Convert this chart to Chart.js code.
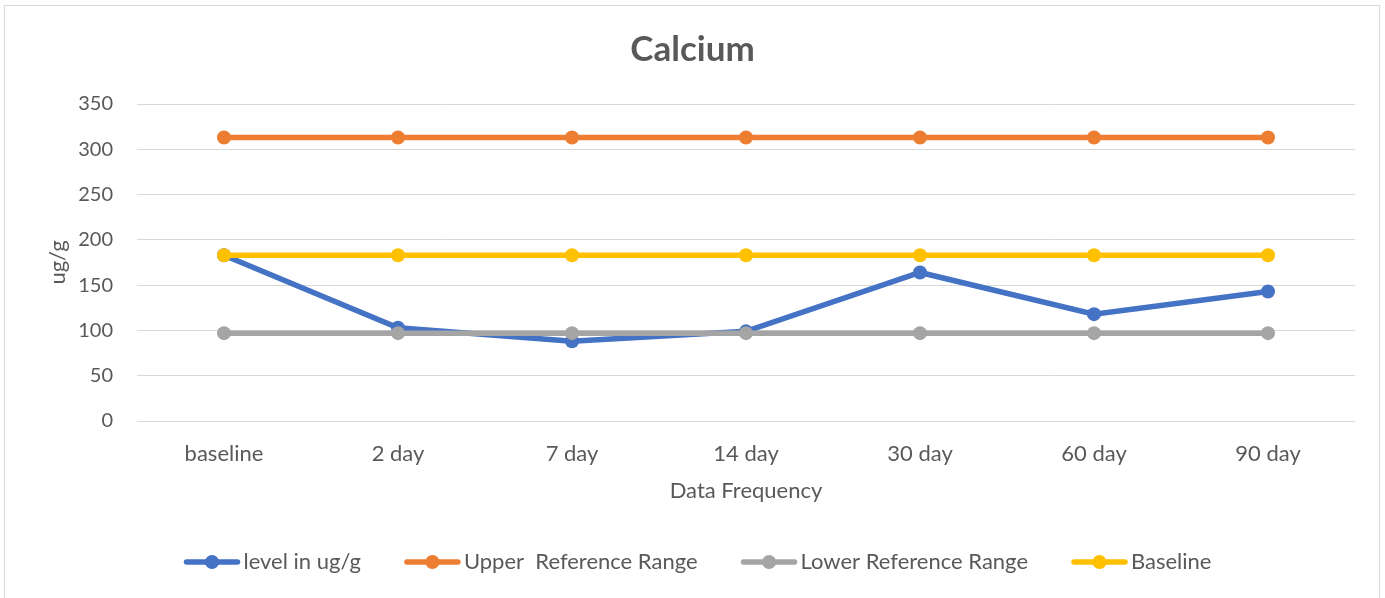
<!DOCTYPE html>
<html>
<head>
<meta charset="utf-8">
<script src="https://cdn.jsdelivr.net/npm/chart.js@4"></script>
<style>
  html, body { margin: 0; padding: 0; background: #ffffff; }
  #wrap { position: absolute; left: 0; top: 0; width: 1385px; height: 598px; }
  #frame { position: absolute; left: 4px; top: 5px; width: 1376px; height: 600px; border: 1px solid #d9d9d9; box-sizing: border-box; }
  canvas { position: absolute; left: 0; top: 0; }
</style>
</head>
<body>
<div id="wrap">
  <div id="frame"></div>
  <canvas id="c" width="1385" height="598"></canvas>
</div>
<script>
const categories = ["baseline", "2 day", "7 day", "14 day", "30 day", "60 day", "90 day"];
const levelValues = [183, 103, 88, 99, 164, 118, 143];
const upperValues = [313, 313, 313, 313, 313, 313, 313];
const lowerValues = [97, 97, 97, 97, 97, 97, 97];
const baselineValues = [183, 183, 183, 183, 183, 183, 183];
const seriesNames = ["level in ug/g", "Upper  Reference Range", "Lower Reference Range", "Baseline"];
const seriesColors = ["#4472C4", "#ED7D31", "#A5A5A5", "#FFC000"];
const yTicks = [0, 50, 100, 150, 200, 250, 300, 350];

const FONT = "Lato, 'Open Sans', sans-serif";
const TEXT = "#595959";

const allValues = [levelValues, upperValues, lowerValues, baselineValues];
const datasets = allValues.map((vals, i) => ({
  label: seriesNames[i],
  data: vals,
  borderColor: seriesColors[i],
  backgroundColor: seriesColors[i],
  borderWidth: 5.5,
  pointRadius: 7,
  pointHoverRadius: 7,
  pointBorderWidth: 0,
  pointStyle: 'circle',
  tension: 0,
  order: 4 - i
}));

// Excel-style legend: line with a dot, then label text
const excelLegend = {
  id: 'excelLegend',
  afterDraw(chart, args, opts) {
    const ctx = chart.ctx;
    const ds = chart.data.datasets;
    const iconW = 55, gapText = 4, gapItem = 44;
    ctx.save();
    ctx.font = "22px " + FONT;
    const widths = ds.map(d => ctx.measureText(d.label).width);
    let total = 0;
    widths.forEach((w, i) => { total += iconW + gapText + w + (i < ds.length - 1 ? gapItem : 0); });
    let x = opts.centerX - total / 2;
    const y = opts.y;
    ds.forEach((d, i) => {
      ctx.strokeStyle = d.borderColor;
      ctx.lineWidth = 5.5;
      ctx.lineCap = 'round';
      ctx.beginPath(); ctx.moveTo(x + 2, y); ctx.lineTo(x + iconW - 2, y); ctx.stroke();
      ctx.fillStyle = d.borderColor;
      ctx.beginPath(); ctx.arc(x + iconW / 2, y, 7, 0, Math.PI * 2); ctx.fill();
      ctx.fillStyle = TEXT;
      ctx.textBaseline = 'middle';
      ctx.textAlign = 'left';
      ctx.fillText(d.label, x + iconW + gapText, y);
      x += iconW + gapText + widths[i] + gapItem;
    });
    ctx.restore();
  }
};

new Chart(document.getElementById('c'), {
  type: 'line',
  data: { labels: categories, datasets: datasets },
  plugins: [excelLegend],
  options: {
    responsive: false,
    animation: false,
    devicePixelRatio: 1,
    layout: { padding: { left: 30, right: 30, top: 18, bottom: 97 } },
    plugins: {
      tooltip: { enabled: false },
      legend: { display: false },
      excelLegend: { centerX: 698, y: 562 },
      title: {
        display: true,
        text: "Calcium",
        color: TEXT,
        font: { family: FONT, size: 35, weight: 'bold' },
        padding: { top: 11, bottom: 33 }
      }
    },
    scales: {
      x: {
        offset: true,
        afterFit: (scale) => { scale.height = 80; },
        grid: { display: false, drawTicks: false },
        border: { display: false },
        ticks: { color: TEXT, font: { family: FONT, size: 22 }, padding: 20 },
        title: {
          display: true, text: "Data Frequency", color: TEXT,
          font: { family: FONT, size: 22 }, padding: { top: 0, bottom: -3 }
        }
      },
      y: {
        min: 0, max: 350,
        afterBuildTicks: (scale) => { scale.ticks = yTicks.map(v => ({ value: v })); },
        afterFit: (scale) => { scale.width = 107; },
        grid: { color: "#d9d9d9", lineWidth: 1, drawTicks: false },
        border: { display: false },
        ticks: { color: TEXT, font: { family: FONT, size: 20 }, padding: 24 },
        title: {
          display: true, text: "ug/g", color: TEXT,
          font: { family: FONT, size: 22 }, padding: { top: 15, bottom: 0 }
        }
      }
    }
  }
});
</script>
</body>
</html>
